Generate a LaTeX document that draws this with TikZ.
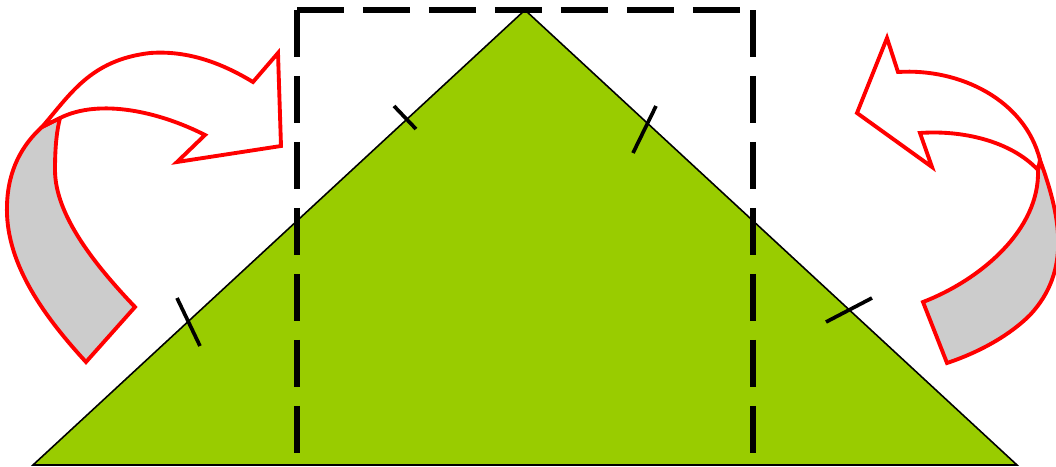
\documentclass[tikz,border=0pt]{standalone}
\usepackage{tikz}
\definecolor{leaf}{HTML}{99CC00}
\definecolor{band}{HTML}{CCCCCC}

\begin{document}
\begin{tikzpicture}[x=0.02cm, y=-0.02cm,
  arrowline/.style={draw=red, line width=2.2pt, line join=miter},
  cutline/.style={line width=3.5pt, dash pattern=on 26.75pt off 10.8pt},
  edgemark/.style={line width=2.1pt}]
  \useasboundingbox (0,0) rectangle (1056,467);
  \clip (0,0) rectangle (1056,467);
  % corners of the triangle and of the cut
  \coordinate (A) at (33,465);
  \coordinate (B) at (1017,465);
  \coordinate (C) at (525,10);
  \coordinate (P) at (297,10);
  \coordinate (Pb) at (297,453);
  \coordinate (Q) at (753,10);
  \coordinate (Qb) at (753,453);
  % triangle
  \filldraw[fill=leaf, line width=0.9pt] (A) -- (C) -- (B) -- cycle;
  % cut lines
  \draw[cutline] (P) -- (Pb);
  \draw[cutline] (P) -- (Q);
  \draw[cutline] (Q) -- (Qb);
  % marks on the sides
  \foreach \xa/\ya/\xb/\yb in {177/298/200/346, 394/106/416/129,
                               656/106/633/153, 872/298/826/322}
    \draw[edgemark] (\xa,\ya) -- (\xb,\yb);
  % left arrow
  \filldraw[arrowline, fill=band] (86,362) .. controls (40,312) and (5,260) .. (7,205)
    .. controls (8,170) and (22,145) .. (42,127) -- (60,118)
    .. controls (57,130) and (55,145) .. (55,170)
    .. controls (55,215) and (95,265) .. (135,307) -- cycle;
  \filldraw[arrowline, fill=white] (42,127) .. controls (70,95) and (90,60) .. (150,53)
    .. controls (190,50) and (225,65) .. (253,82) -- (278,53) -- (281,146)
    -- (177,162) -- (205,135) .. controls (160,112) and (100,98) .. (60,118) -- cycle;
  % right arrow
  \filldraw[arrowline, fill=band] (1040,160) .. controls (1060,215) and (1072,270) .. (1030,315)
    .. controls (1010,335) and (980,352) .. (947,363) -- (923,302)
    .. controls (980,280) and (1040,230) .. (1038,170) -- cycle;
  \filldraw[arrowline, fill=white] (898,72) .. controls (960,68) and (1025,100) .. (1040,160)
    -- (1038,170) .. controls (1010,140) and (960,130) .. (920,133) -- (932,167)
    -- (857,113) -- (887,38) -- cycle;
\end{tikzpicture}
\end{document}
